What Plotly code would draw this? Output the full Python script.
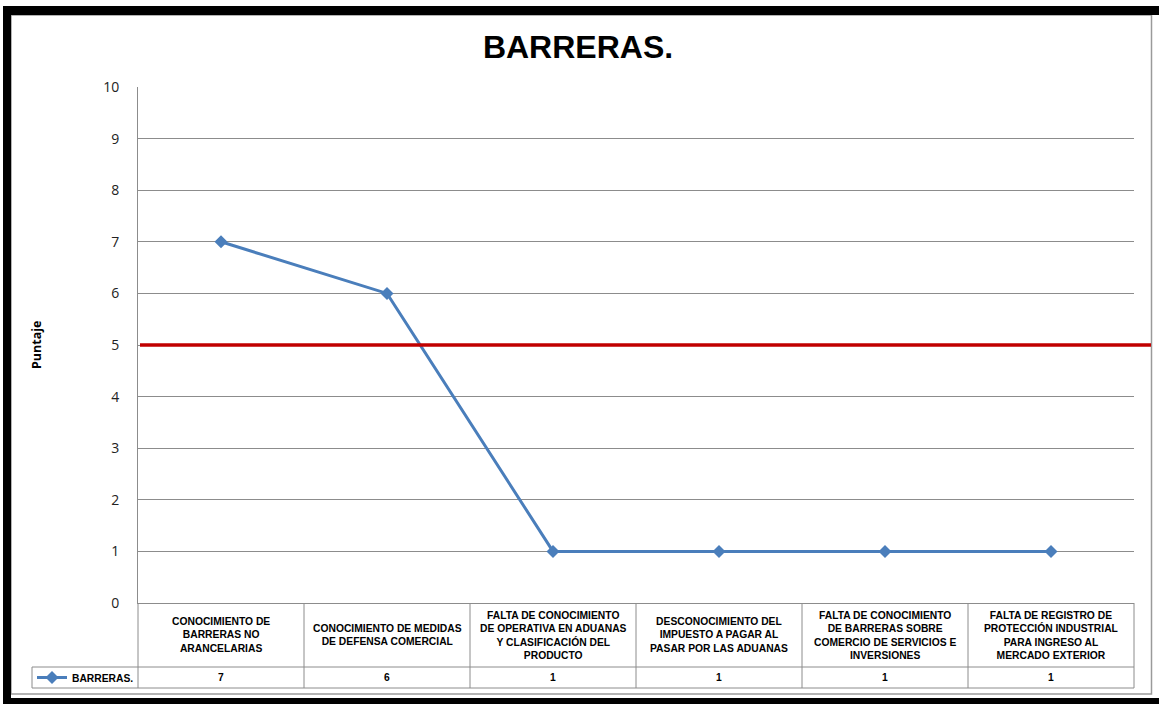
import plotly.graph_objects as go

# ---- data ----
categories = [
    "CONOCIMIENTO DE<br>BARRERAS NO<br>ARANCELARIAS",
    "CONOCIMIENTO DE MEDIDAS<br>DE DEFENSA COMERCIAL",
    "FALTA DE CONOCIMIENTO<br>DE OPERATIVA EN ADUANAS<br>Y CLASIFICACIÓN DEL<br>PRODUCTO",
    "DESCONOCIMIENTO DEL<br>IMPUESTO A PAGAR AL<br>PASAR POR LAS ADUANAS",
    "FALTA DE CONOCIMIENTO<br>DE BARRERAS SOBRE<br>COMERCIO DE SERVICIOS E<br>INVERSIONES",
    "FALTA DE REGISTRO DE<br>PROTECCIÓN INDUSTRIAL<br>PARA INGRESO AL<br>MERCADO EXTERIOR",
]
barreras = [7, 6, 1, 1, 1, 1]
series_name = "BARRERAS."
threshold = 5
y_ticks = list(range(0, 11))

# ---- page geometry (pixels) ----
W, H = 1159, 704
ML, MR, MT, MB = 138, 25, 87, 101
PW, PH = W - ML - MR, H - MT - MB
Y_AXIS_BOTTOM = H - MB          # pixel row of y = 0
HEADER_BOTTOM = 667              # bottom of the category-label row
VALUE_BOTTOM = 688               # bottom of the value row
LEGEND_LEFT = 32

GRID = "#8c8c8c"
BLUE = "#4A7EBB"
RED = "#C00000"
TXT_FONT = "Liberation Sans, Arial, sans-serif"


def px_x(px):
    """pixel column -> paper x"""
    return (px - ML) / PW


def px_y(py):
    """pixel row -> paper y"""
    return (Y_AXIS_BOTTOM - py) / PH


n = len(categories)
xs = list(range(n))

fig = go.Figure()
fig.add_trace(go.Scatter(
    x=xs, y=barreras, name=f"<b>{series_name}</b>", mode="lines+markers",
    line=dict(color=BLUE, width=3),
    marker=dict(symbol="diamond", size=10, color=BLUE),
    showlegend=True,
))

shapes = []
line_style = dict(color=GRID, width=1)

# threshold line, running past the plot area to the chart border
shapes.append(dict(type="line", xref="paper", yref="y",
                   x0=px_x(140), x1=px_x(1151), y0=threshold, y1=threshold,
                   line=dict(color=RED, width=3.5), layer="above"))


def col_edge(i):
    # category boundary (i - 0.5) expressed as a fraction of the x axis
    return i / n


# data table grid under the x axis
for i in range(n + 1):
    shapes.append(dict(type="line", xref="paper", yref="paper",
                       x0=col_edge(i), x1=col_edge(i),
                       y0=0, y1=px_y(VALUE_BOTTOM), line=line_style))
for row in (HEADER_BOTTOM, VALUE_BOTTOM):
    shapes.append(dict(type="line", xref="paper", yref="paper",
                       x0=px_x(LEGEND_LEFT), x1=1, y0=px_y(row), y1=px_y(row),
                       line=line_style))
shapes.append(dict(type="line", xref="paper", yref="paper",
                   x0=px_x(LEGEND_LEFT), x1=px_x(LEGEND_LEFT),
                   y0=px_y(HEADER_BOTTOM), y1=px_y(VALUE_BOTTOM), line=line_style))

# chart-area border and the black frame
shapes.append(dict(type="rect", xref="paper", yref="paper",
                   x0=px_x(11), x1=px_x(1151.5), y0=px_y(15), y1=px_y(694),
                   line=dict(color="#9a9a9a", width=1.5), layer="below"))
for (x0, x1, y0, y1) in [(3, W, 6, 15), (3, 11, 6, H), (3, W, 698, H)]:
    shapes.append(dict(type="rect", xref="paper", yref="paper",
                       x0=px_x(x0), x1=px_x(x1), y0=px_y(y0), y1=px_y(y1),
                       fillcolor="black", line=dict(width=0), layer="above"))

annotations = []
header_mid = px_y((Y_AXIS_BOTTOM + HEADER_BOTTOM) / 2)
value_mid = px_y((HEADER_BOTTOM + VALUE_BOTTOM) / 2)
for i, (cat, val) in enumerate(zip(categories, barreras)):
    annotations.append(dict(x=i, xref="x", y=header_mid, yref="paper",
                            text=f"<b>{cat}</b>", showarrow=False,
                            xanchor="center", yanchor="middle", align="center",
                            font=dict(family=TXT_FONT, size=10.3, color="black")))
    annotations.append(dict(x=i, xref="x", y=value_mid, yref="paper",
                            text=f"<b>{val}</b>", showarrow=False,
                            xanchor="center", yanchor="middle",
                            font=dict(family=TXT_FONT, size=10.3, color="black")))

# y-axis title
annotations.append(dict(x=px_x(36), xref="paper", y=0.5, yref="paper",
                        text="<b>Puntaje</b>", textangle=-90, showarrow=False,
                        xanchor="center", yanchor="middle",
                        font=dict(family="Open Sans, sans-serif", size=12.5, color="black")))

fig.update_layout(
    width=W, height=H,
    margin=dict(l=ML, r=MR, t=MT, b=MB, pad=0),
    paper_bgcolor="white", plot_bgcolor="white",
    title=dict(text="<b>BARRERAS.</b>", x=578 / W, xanchor="center",
               y=1 - 47 / H, yanchor="middle",
               font=dict(family=TXT_FONT, size=32, color="black")),
    xaxis=dict(range=[-0.5, n - 0.5], showticklabels=False, showgrid=False,
               zeroline=False, showline=True, linecolor=GRID, linewidth=1,
               ticks="", fixedrange=True),
    yaxis=dict(range=[0, 10], tickvals=y_ticks, showgrid=True, gridcolor=GRID,
               gridwidth=1, zeroline=False, showline=True, linecolor=GRID,
               linewidth=1, ticks="", ticklabelstandoff=15,
               tickfont=dict(family="Open Sans, sans-serif", size=14, color="#222")),
    showlegend=True,
    legend=dict(x=px_x(LEGEND_LEFT), xanchor="left",
                y=px_y((HEADER_BOTTOM + VALUE_BOTTOM) / 2), yanchor="middle",
                bgcolor="rgba(0,0,0,0)", borderwidth=0,
                font=dict(family=TXT_FONT, size=10.3, color="black"),
                itemwidth=30),
    shapes=shapes,
    annotations=annotations,
)

fig.write_html("out.html")
